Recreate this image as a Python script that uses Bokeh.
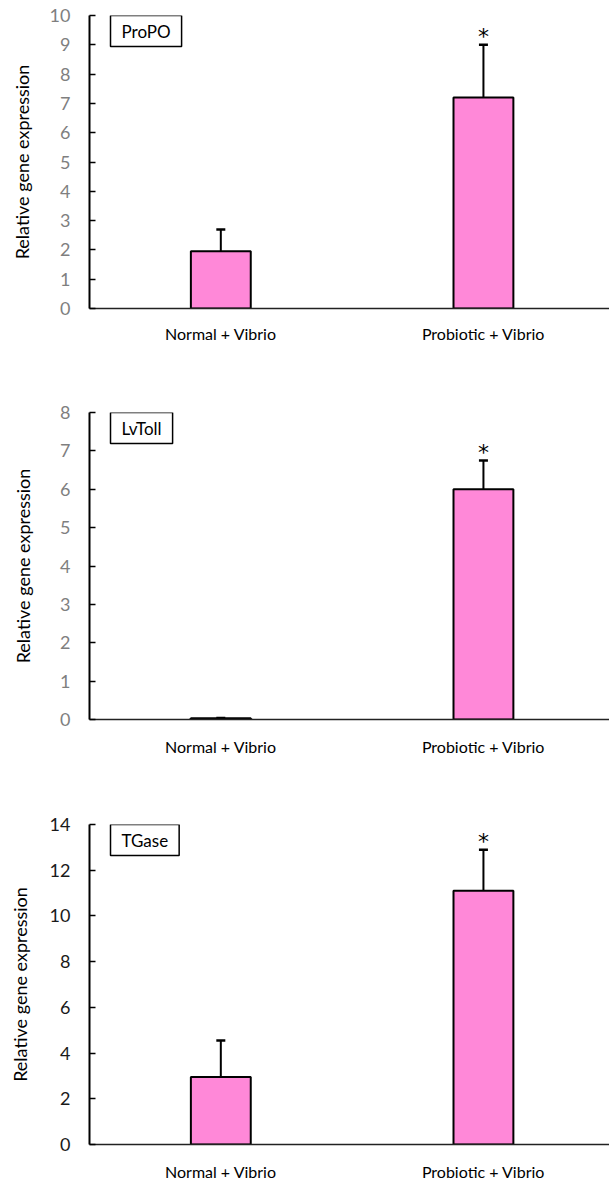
import numpy as np
from bokeh.plotting import figure
from bokeh.models import (Range1d, FixedTicker, Whisker, TeeHead, ColumnDataSource, Label)
from bokeh.layouts import column
from bokeh.core.properties import value
from bokeh.embed import file_html
from bokeh.resources import INLINE

categories = ["Normal + Vibrio", "Probiotic + Vibrio"]

propo_mean = [1.95, 7.2]
propo_err = [0.75, 1.8]
propo_sig = [False, True]

lvtoll_mean = [0.03, 6.0]
lvtoll_err = [0.01, 0.75]
lvtoll_sig = [False, True]

tgase_mean = [2.95, 11.1]
tgase_err = [1.6, 1.8]
tgase_sig = [False, True]

genes = ["ProPO", "LvToll", "TGase"]
y_max = [10, 8, 14]
y_step = [1, 1, 2]

FONT = "Lato"
PINK = "#FF88D8"


def make_panel(gene, means, errs, sig, ymax, ystep, height, b_top, b_bottom,
               tick_color, label_standoff, xlabel_standoff):
    xs = np.arange(len(categories)) + 0.5
    p = figure(width=609, height=height, output_backend="svg", toolbar_location=None,
               x_range=Range1d(0, 1.98), y_range=Range1d(0, ymax),
               min_border_left=89, min_border_right=0,
               min_border_top=b_top, min_border_bottom=b_bottom)
    p.outline_line_color = None
    p.xgrid.visible = False
    p.ygrid.visible = False
    p.background_fill_color = "white"
    p.border_fill_color = "white"

    upper = [m + e for m, e in zip(means, errs)]
    src = ColumnDataSource(dict(x=xs, top=means, upper=upper, lower=means))
    p.vbar(x="x", top="top", bottom=0, width=0.228, source=src,
           fill_color=PINK, line_color="black", line_width=2)

    w = Whisker(base="x", upper="upper", lower="lower", source=src, dimension="height",
                line_color="black", line_width=2,
                upper_head=TeeHead(size=9, line_color="black", line_width=2.5),
                lower_head=None)
    p.add_layout(w)

    sx = [x for x, s in zip(xs, sig) if s]
    sy = [u for u, s in zip(upper, sig) if s]
    p.text(x=sx, y=sy, text=["*"] * len(sx), text_align="center", text_baseline="alphabetic",
           y_offset=-8, text_font=value("DejaVu Sans"), text_font_size="22px",
           text_color="black")

    # y axis
    ya = p.yaxis[0]
    ya.ticker = FixedTicker(ticks=list(np.arange(0, ymax + ystep / 2, ystep)))
    ya.axis_line_color = "black"
    ya.axis_line_width = 2
    ya.major_tick_in = 6
    ya.major_tick_out = 0
    ya.major_tick_line_width = 1.5
    ya.minor_tick_line_color = None
    ya.major_label_text_font = FONT
    ya.major_label_text_font_size = "18px"
    ya.major_label_text_color = tick_color
    ya.major_label_standoff = 19
    ya.axis_label = "Relative gene expression"
    ya.axis_label_text_font = FONT
    ya.axis_label_text_font_size = "18px"
    ya.axis_label_text_font_style = "normal"
    ya.axis_label_text_color = "black"
    ya.axis_label_standoff = label_standoff

    # x axis
    xa = p.xaxis[0]
    xa.ticker = FixedTicker(ticks=list(xs))
    xa.major_label_overrides = {float(x): c for x, c in zip(xs, categories)}
    xa.axis_line_color = "#222222"
    xa.axis_line_width = 1.5
    xa.major_tick_line_color = None
    xa.minor_tick_line_color = None
    xa.major_label_text_font = FONT
    xa.major_label_text_font_size = "16px"
    xa.major_label_text_color = "black"
    xa.major_label_standoff = xlabel_standoff

    lab = Label(x=0.08, y=ymax, text=gene, anchor="top_left",
                text_font=FONT, text_font_size="17px", text_color="black",
                border_line_color="black", border_line_width=1.5,
                background_fill_color="white",
                padding=dict(top=5, right=11, bottom=5, left=11))
    p.add_layout(lab)
    return p


p1 = make_panel(genes[0], propo_mean, propo_err, propo_sig, y_max[0], y_step[0],
                370, 15, 62, "#7f7f7f", 14, 9)
p2 = make_panel(genes[1], lvtoll_mean, lvtoll_err, lvtoll_sig, y_max[1], y_step[1],
                420, 42, 71, "#7f7f7f", 23, 11)
p3 = make_panel(genes[2], tgase_mean, tgase_err, tgase_sig, y_max[2], y_step[2],
                393, 34, 36, "#1a1a1a", 16, 11)

layout = column(p1, p2, p3, spacing=0)
open("out.html", "w").write(file_html(layout, INLINE))
